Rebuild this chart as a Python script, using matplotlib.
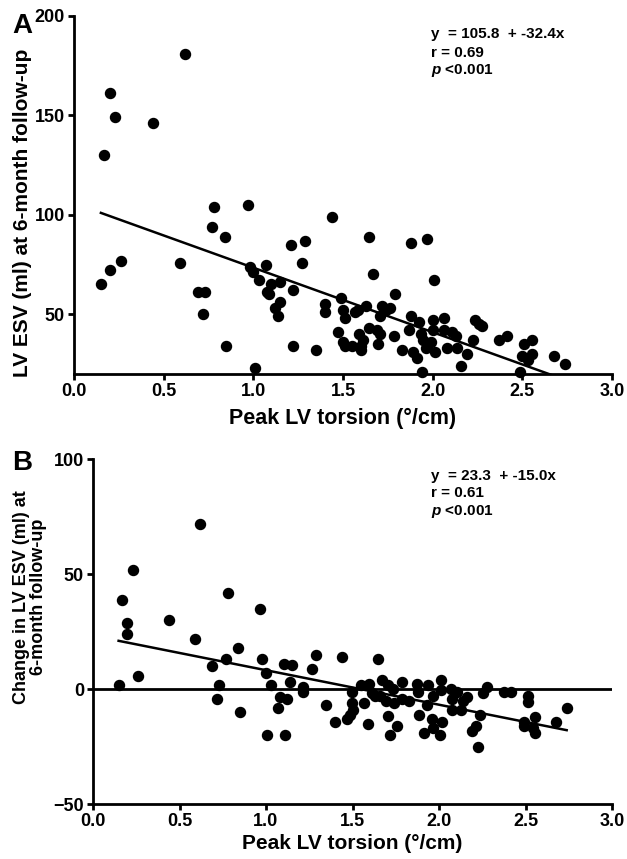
import numpy as np
import matplotlib
matplotlib.use("Agg")
import matplotlib.pyplot as plt

plt.rcParams['font.family'] = ['Liberation Sans', 'DejaVu Sans']
plt.rcParams['font.weight'] = 'bold'
plt.rcParams['mathtext.fontset'] = 'custom'
plt.rcParams['mathtext.it'] = 'Liberation Sans:italic:bold'
plt.rcParams['mathtext.rm'] = 'Liberation Sans:bold'

# panel A: peak LV torsion vs LV ESV at 6 months
torsion_a = [0.15, 0.2, 0.26, 0.17, 0.2, 0.23, 0.44, 0.62, 0.59, 0.69, 0.73, 0.72,
             0.77, 0.78, 0.84, 0.85, 0.97, 0.98, 1.0, 1.01, 1.03, 1.07, 1.1, 1.075,
             1.09, 1.15, 1.15, 1.12, 1.14, 1.22, 1.21, 1.29, 1.27, 1.22, 1.35, 1.44,
             1.40, 1.40, 1.49, 1.50, 1.51, 1.47, 1.50, 1.51, 1.647, 1.666, 1.878, 1.967,
             2.008, 1.788, 1.549, 1.567, 1.586, 1.628, 1.59, 1.613, 1.60, 1.60, 1.647, 1.688,
             1.706, 1.693, 1.72, 1.706, 1.74, 1.762, 1.786, 1.827, 1.88, 1.87, 1.888, 1.915,
             1.926, 1.933, 1.948, 1.963, 1.94, 2.0, 2.0, 1.99, 2.013, 2.064, 2.064, 2.078,
             2.106, 2.13, 2.134, 2.193, 2.157, 2.227, 2.236, 2.259, 2.277, 2.372, 2.417, 2.51,
             2.553, 2.497, 2.553, 2.534, 2.487, 2.677, 2.738]
esv_a = [65, 72, 77, 130, 161, 149, 146, 181, 76, 61, 61, 50,
         94, 104, 89, 34, 105, 74, 71, 23, 67, 75, 65, 61,
         60, 66, 56, 53, 49, 62, 85, 87, 76, 34, 32, 99,
         55, 51, 58, 52, 48, 41, 36, 34, 89, 70, 86, 88,
         67, 60, 34, 51, 52, 54, 40, 37, 32, 34, 43, 42,
         40, 35, 54, 49, 52, 53, 39, 32, 49, 42, 31, 28,
         46, 40, 37, 33, 21, 47, 42, 36, 31, 48, 42, 33,
         41, 39, 33, 30, 24, 37, 47, 45, 44, 37, 39, 35,
         37, 29, 30, 27, 21, 29, 25]

# panel B: peak LV torsion vs change in LV ESV
torsion_b = [0.618, 0.23, 0.168, 0.198, 0.198, 0.437, 0.778, 0.965, 0.588, 0.84,
             0.148, 0.258, 0.686, 0.767, 0.728, 0.719, 0.848, 0.979, 0.998, 1.027,
             1.008, 1.11, 1.08, 1.12, 1.068, 1.104, 1.152, 1.139, 1.216, 1.216,
             1.268, 1.287, 1.345, 1.399, 1.437, 1.466, 1.486, 1.505, 1.495, 1.495,
             1.549, 1.568, 1.588, 1.597, 1.61, 1.63, 1.645, 1.659, 1.669, 1.694,
             1.707, 1.707, 1.717, 1.736, 1.742, 1.759, 1.788, 1.788, 1.828, 1.875,
             1.881, 1.887, 1.933, 1.913, 1.938, 1.967, 1.961, 1.967, 2.01, 2.01,
             2.016, 2.006, 2.067, 2.073, 2.073, 2.102, 2.127, 2.141, 2.16, 2.192,
             2.212, 2.227, 2.237, 2.256, 2.279, 2.376, 2.414, 2.516, 2.516, 2.491,
             2.491, 2.555, 2.555, 2.545, 2.676, 2.738]
d_esv_b = [72, 52, 39, 29, 24, 30, 42, 35, 22, 18,
           2, 6, 10, 13, 2, -4, -10, 13, 7, 2,
           -20, -20, -3.5, -4, -8, 11, 10.5, 3, 1, -1,
           9, 15, -7, -14, 14, -13, -11, -9, -6, -1,
           2, -6, -15, 2.5, -1.5, -3, 13, -3, 4, -5,
           2, -11.5, -20, 0, -6, -16, 3, -4, -5, 2.5,
           -1, -11, -7, -19, 2, -3, -13, -17, 4, -0.5,
           -14, -20, 0, -4, -9, -1, -9, -5, -3.5, -18,
           -16, -25, -11, -1.5, 1, -1, -1, -3, -5.5, -14,
           -16, -12, -19, -17, -14, -8]

# reported regression fits
fit_a = (105.8, -32.4)
fit_b = (23.3, -15.0)
stats_a = ["y  = 105.8  + -32.4x", "r = 0.69", r"$p$ <0.001"]
stats_b = ["y  = 23.3  + -15.0x", "r = 0.61", r"$p$ <0.001"]
xticklabels = ['0.0', '0.5', '1.0', '1.5', '2.0', '2.5', '3.0']

W, H = 627, 859
fig = plt.figure(figsize=(W / 100, H / 100), dpi=100)

def px_axes(l, t, r, b):
    return fig.add_axes([l / W, 1 - b / H, (r - l) / W, (b - t) / H])

def style(ax):
    for s in ['top', 'right']:
        ax.spines[s].set_visible(False)
    for s in ['left', 'bottom']:
        ax.spines[s].set_linewidth(2)
    ax.tick_params(width=2, length=4, labelsize=13, pad=2.5)

xline = np.array([min(torsion_a), max(torsion_a)])

axA = px_axes(74, 15.7, 612, 374)
axA.scatter(torsion_a, esv_a, s=52, color='black', zorder=3, clip_on=False)
axA.plot(xline, fit_a[0] + fit_a[1] * xline, color='black', lw=1.8)
axA.set_xlim(0, 3)
axA.set_ylim(20, 200)
axA.set_xticks(np.arange(0, 3.01, 0.5))
axA.set_xticklabels(xticklabels)
axA.set_yticks([50, 100, 150, 200])
style(axA)
axA.set_xlabel("Peak LV torsion (°/cm)", fontsize=15.5, fontweight='bold')
axA.xaxis.set_label_coords(0.5, -0.123)
axA.xaxis.label.set_va('center')
axA.set_ylabel("LV ESV (ml) at 6-month follow-up", fontsize=15, fontweight='bold')
axA.yaxis.set_label_coords(-0.095, 0.45)
axA.yaxis.label.set_va('center')
for txt, yy in zip(stats_a, [0.950, 0.897, 0.846]):
    axA.text(0.664, yy, txt, transform=axA.transAxes, fontsize=11,
             fontweight='bold', va='center', ha='left')

xline_b = np.array([min(torsion_b), max(torsion_b)])
axB = px_axes(93, 459.3, 612, 804.3)
axB.axhline(0, color='black', lw=2)
axB.scatter(torsion_b, d_esv_b, s=52, color='black', zorder=3)
axB.plot(xline_b, fit_b[0] + fit_b[1] * xline_b, color='black', lw=1.8)
axB.set_xlim(0, 3)
axB.set_ylim(-50, 100)
axB.set_xticks(np.arange(0, 3.01, 0.5))
axB.set_xticklabels(xticklabels)
axB.set_yticks([-50, 0, 50, 100])
style(axB)
axB.set_xlabel("Peak LV torsion (°/cm)", fontsize=15, fontweight='bold')
axB.xaxis.set_label_coords(0.5, -0.113)
axB.xaxis.label.set_va('center')
axB.set_ylabel("Change in LV ESV (ml) at\n6-month follow-up", fontsize=13,
               fontweight='bold', linespacing=1.0)
axB.yaxis.set_label_coords(-0.122, 0.6)
axB.yaxis.label.set_va('center')
for txt, yy in zip(stats_b, [0.952, 0.903, 0.848]):
    axB.text(0.651, yy, txt, transform=axB.transAxes, fontsize=11,
             fontweight='bold', va='center', ha='left')

fig.text(12 / W, 1 - 26 / H, "A", fontsize=20, fontweight='bold', va='center', ha='left')
fig.text(12 / W, 1 - 463 / H, "B", fontsize=20, fontweight='bold', va='center', ha='left')

fig.savefig("out.png", dpi=100)
